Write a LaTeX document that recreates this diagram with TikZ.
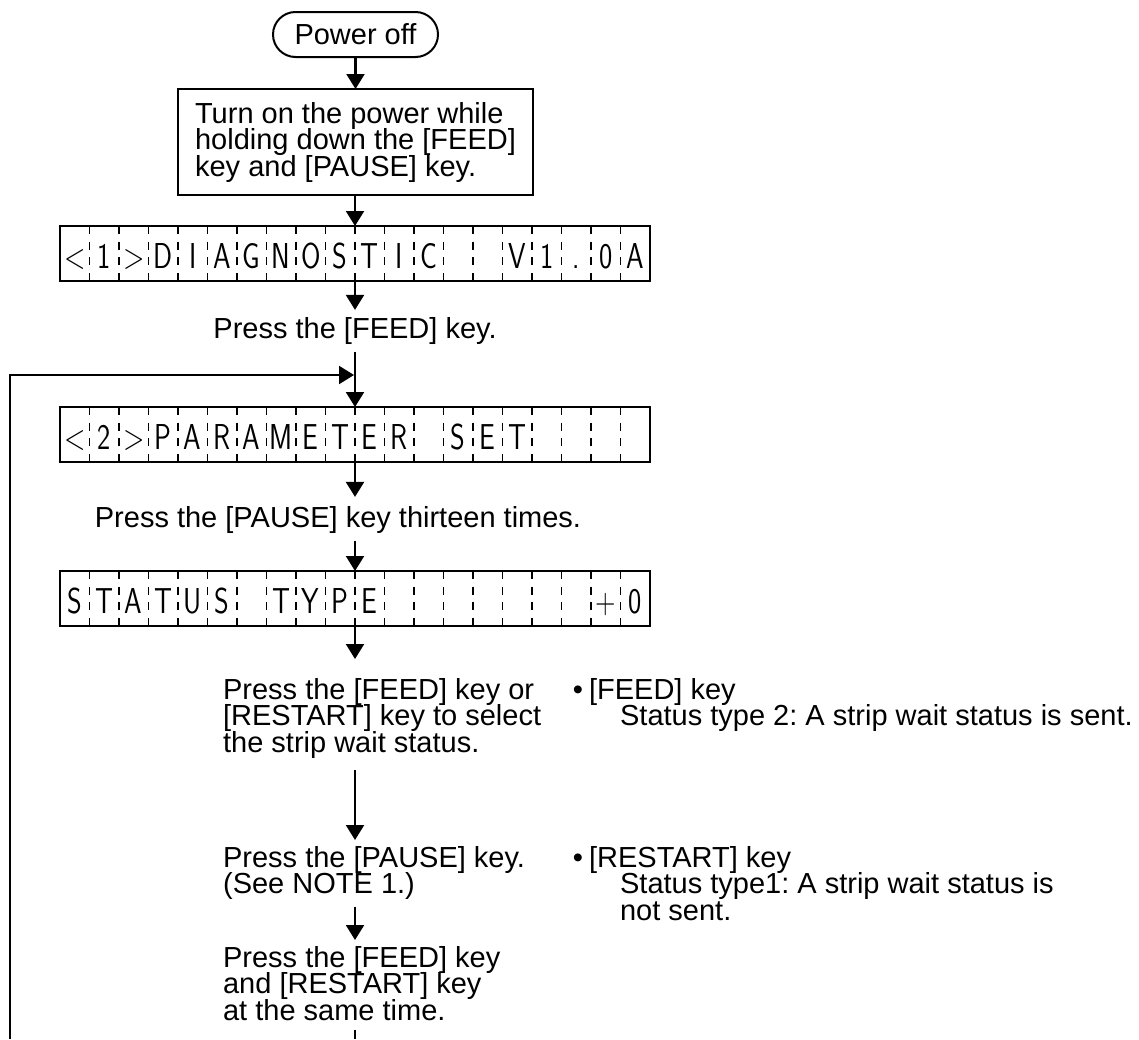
\documentclass[tikz,border=0pt]{standalone}
\usepackage{fontspec}
\setmainfont{Liberation Sans}
\usepackage{graphicx}
\usetikzlibrary{arrows.meta}
\newcommand\tightlines{\lineskiplimit=-50pt\relax}
\newcommand\txtfont{\fontsize{29}{26.5}\selectfont\tightlines}
\newcommand\lcdrow[2]{%
  \foreach \k in {1,...,19}
    \draw[sep] ([xshift=\k*29.5pt]#1.north west) -- ([xshift=\k*29.5pt]#1.south west);
  \foreach \c [count=\i] in {#2}
    \node[lcdch] at ([xshift=\i*29.5pt-14.75pt, yshift=-42pt]#1.north west) {\scalebox{0.78}[1]{\c}};
}
\begin{document}
\frenchspacing
\begin{tikzpicture}[x=1pt,y=-1pt,
  line width=2.2pt,
  arr/.style={-{Triangle[width=18pt,length=15pt]}},
  txt/.style={font=\txtfont, inner sep=0pt, align=left},
  lcdbox/.style={draw, line width=2.5pt, minimum width=590pt, minimum height=55pt, inner sep=0pt, outer sep=0pt},
  sep/.style={line width=1.3pt, dash pattern=on 8pt off 7.67pt},
  lcdch/.style={font=\sffamily\fontsize{36}{36}\selectfont, inner sep=0pt, anchor=base},
  ]
\useasboundingbox (0,0) rectangle (1139,1039);

\node[draw, line width=2pt, rounded corners=22.5pt, minimum width=165pt, minimum height=45pt, txt, outer sep=0pt] (start) at (355.5,34.5) {Power off};
\node[draw, line width=2pt, txt, inner xsep=14pt, inner ysep=0pt, minimum width=355pt, minimum height=106pt, outer sep=0pt] (box) at (355.5,142)
  {Turn on the power while\\holding down the [FEED]\\key and [PAUSE] key.};

\node[lcdbox] (lcd1) at (355,253.5) {};
\lcdrow{lcd1}{<,1,>,D,I,A,G,N,O,S,T,I,C,{},{},V,1,.,0,A}

\node[txt, anchor=base] (t1) at (355,338) {Press the [FEED] key.};

\node[lcdbox] (lcd2) at (355,434.5) {};
\lcdrow{lcd2}{<,2,>,P,A,R,A,M,E,T,E,R,{},S,E,T,{},{},{},{}}

\node[txt, anchor=base] (t2) at (338,527) {Press the [PAUSE] key thirteen times.};

\node[lcdbox] (lcd3) at (355,598.5) {};
\lcdrow{lcd3}{S,T,A,T,U,S,{},T,Y,P,E,{},{},{},{},{},{},{},+,0}

\node[txt, anchor=north west] (t3) at (222,677) {Press the [FEED] key or\\{}[RESTART] key to select\\the strip wait status.};
\node[txt, anchor=north west] (t4) at (222,845) {Press the [PAUSE] key.\\(See NOTE 1.)};
\node[txt, anchor=north west] (t5) at (222,945) {Press the [FEED] key\\and [RESTART] key\\at the same time.};

\node[txt, anchor=north west] (r1) at (588,677) {\llap{•\hspace{6pt}}[FEED] key\\\hspace{31pt}Status type 2: A strip wait status is sent.};
\node[txt, anchor=north west] (r2) at (588,845) {\llap{•\hspace{6pt}}[RESTART] key\\\hspace{31pt}Status type1: A strip wait status is\\\hspace{31pt}not sent.};

\coordinate (bl) at (10,1039);
\coordinate (join) at (355,375);

\draw[arr] (start.south) -- (start.south |- box.north);
\draw[arr] (lcd1.north |- box.south) -- (lcd1.north);
\draw[arr, shorten >=6pt] (lcd1.south) -- (t1.north);
\draw[arr, shorten <=7pt] (t1.south) -- (lcd2.north);
\draw[arr, shorten >=1pt] (bl) |- (join);
\draw[arr, shorten >=8pt] (lcd2.south) -- (lcd2.south |- t2.north);
\draw[arr, shorten <=7pt] (lcd2.south |- t2.south) -- (lcd3.north);
\draw[arr, shorten >=18pt] (lcd3.south) -- (lcd3.south |- t3.north);
\draw[arr, shorten <=11pt, shorten >=5pt] (lcd3.south |- t3.south) -- (lcd3.south |- t4.north);
\draw[arr, shorten <=6pt, shorten >=5pt] (lcd3.south |- t4.south) -- (lcd3.south |- t5.north);
\draw[shorten <=8pt] (lcd3.south |- t5.south) -- (lcd3.south |- bl);
\end{tikzpicture}
\end{document}
